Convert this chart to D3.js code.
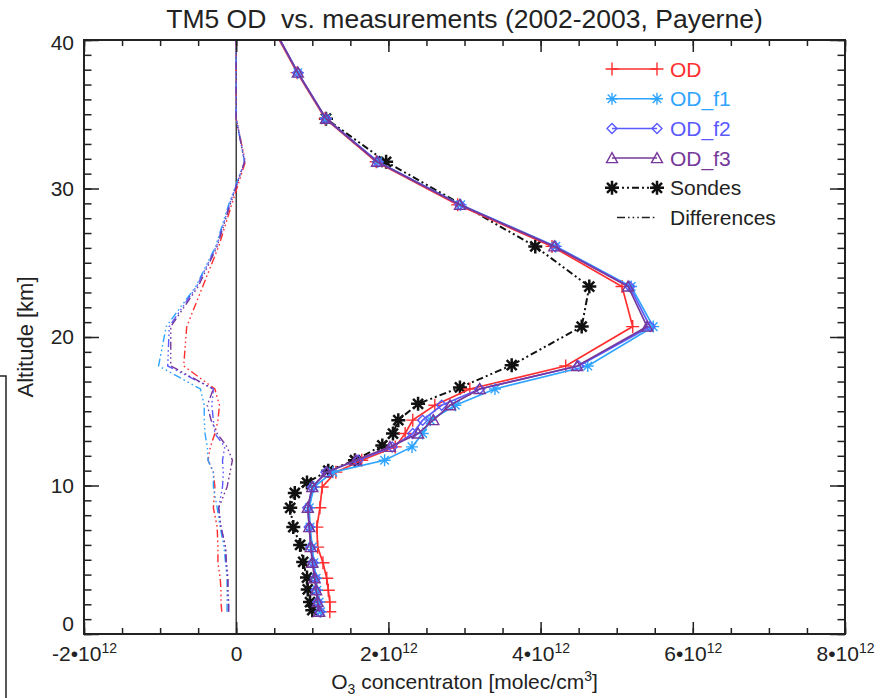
<!DOCTYPE html>
<html>
<head>
<meta charset="utf-8">
<script src="https://cdn.jsdelivr.net/npm/d3@7"></script>
<style>
  body { margin: 0; background: #fff; }
  svg { display: block; }
  text { font-family: "Liberation Sans", Arial, Helvetica, sans-serif; fill: #222; }
</style>
</head>
<body>
<svg id="chart" width="892" height="698"></svg>
<script>
// TM5 model levels (km)
const levels = [1.5, 2.15, 2.95, 3.75, 4.8, 5.85, 7.2, 8.5, 9.9, 10.9, 11.7, 12.6, 13.5, 14.4, 15.4, 16.5, 18.05, 20.7, 23.4, 26.1, 28.9, 31.8, 34.7, 37.8, 41];

// O3 concentration, units of 1e12 molec/cm3
const od   = [1.23, 1.23, 1.21, 1.19, 1.14, 1.07, 1.06, 1.10, 1.13, 1.31, 1.65, 2.09, 2.22, 2.32, 2.61, 3.07, 4.33, 5.21, 5.07, 4.15, 2.91, 1.84, 1.17, 0.80, 0.46];
const odF1 = [1.11, 1.09, 1.06, 1.05, 1.02, 1.00, 0.97, 0.96, 1.02, 1.27, 1.95, 2.31, 2.45, 2.55, 2.88, 3.40, 4.62, 5.48, 5.19, 4.20, 2.95, 1.86, 1.18, 0.81, 0.47];
const odF2 = [1.10, 1.07, 1.05, 1.04, 1.01, 0.98, 0.96, 0.94, 1.00, 1.18, 1.60, 2.05, 2.32, 2.45, 2.70, 3.20, 4.50, 5.44, 5.17, 4.19, 2.94, 1.86, 1.18, 0.81, 0.47];
const odF3 = [1.09, 1.07, 1.05, 1.03, 1.00, 0.98, 0.96, 0.94, 1.00, 1.19, 1.57, 2.02, 2.39, 2.59, 2.81, 3.20, 4.48, 5.40, 5.15, 4.18, 2.94, 1.85, 1.18, 0.81, 0.47];

// ozonesonde profile
const sondeAlt = [1.6, 2.15, 3.0, 3.8, 4.85, 6.0, 7.2, 8.5, 9.5, 10.2, 11.0, 11.7, 12.7, 13.5, 14.4, 15.5, 16.6, 18.1, 20.7, 23.4, 26.1, 31.8, 34.7];
const sondes   = [1.00, 0.97, 0.94, 0.93, 0.88, 0.84, 0.75, 0.71, 0.77, 0.93, 1.21, 1.56, 1.92, 2.06, 2.13, 2.39, 2.94, 3.62, 4.54, 4.64, 3.93, 1.97, 1.18];

// sondes minus model, on model levels
const diffOD = [-0.19, -0.20, -0.20, -0.21, -0.24, -0.24, -0.25, -0.30, -0.28, -0.30, -0.37, -0.34, -0.28, -0.24, -0.22, -0.28, -0.69, -0.65, -0.44, -0.23, -0.06, 0.12, 0, 0, 0];
const diffF1 = [-0.12, -0.12, -0.12, -0.12, -0.14, -0.16, -0.21, -0.25, -0.30, -0.30, -0.37, -0.38, -0.41, -0.42, -0.42, -0.47, -1.02, -0.92, -0.53, -0.27, -0.10, 0.11, 0, 0, 0];
const diffF2 = [-0.10, -0.10, -0.11, -0.11, -0.13, -0.14, -0.20, -0.23, -0.18, -0.17, -0.18, -0.15, -0.28, -0.30, -0.32, -0.30, -0.90, -0.88, -0.52, -0.26, -0.09, 0.11, 0, 0, 0];
const diffF3 = [-0.10, -0.10, -0.11, -0.11, -0.13, -0.14, -0.20, -0.23, -0.12, -0.08, -0.05, -0.12, -0.25, -0.33, -0.38, -0.30, -0.86, -0.86, -0.50, -0.25, -0.08, 0.11, 0, 0, 0];

const xTicks = [-2, 0, 2, 4, 6, 8];
const yTicks = [0, 10, 20, 30, 40];

const colors = { od: "#ff2e2e", f1: "#2fa4ff", f2: "#5a5aff", f3: "#76389a", sonde: "#111", diff: "#222" };

const svg = d3.select("#chart");
const M = { left: 84, right: 845, top: 40, bottom: 634 };

const x = d3.scaleLinear().domain([-2, 8]).range([M.left, M.right]);
const y = d3.scaleLinear().domain([0, 40]).range([M.bottom, M.top]);

svg.append("defs").append("clipPath").attr("id", "plotClip")
  .append("rect").attr("x", M.left).attr("y", M.top)
  .attr("width", M.right - M.left).attr("height", M.bottom - M.top);

// marker shapes
const symbols = {
  plus: "M-6.5,0H6.5M0,-6.5V6.5",
  star: "M-6,0H6M0,-6V6M-4.3,-4.3L4.3,4.3M-4.3,4.3L4.3,-4.3",
  diamond: "M0,-5L5,0L0,5L-5,0Z",
  triangle: "M0,-5.5L5.5,4.5H-5.5Z",
  sonde: "M-7,0H7M0,-7V7M-5,-5L5,5M-5,5L5,-5"
};

const diffDash = "8,3,1.6,3,1.6,3,1.6,3";
const sondeDash = "7,3,2,3,2,3";

const series = [
  { name: "OD",    vals: od,   diff: diffOD, color: colors.od, sym: "plus" },
  { name: "OD_f1", vals: odF1, diff: diffF1, color: colors.f1, sym: "star" },
  { name: "OD_f2", vals: odF2, diff: diffF2, color: colors.f2, sym: "diamond" },
  { name: "OD_f3", vals: odF3, diff: diffF3, color: colors.f3, sym: "triangle" }
];

const line = d3.line().x(d => x(d[0])).y(d => y(d[1]));
const plot = svg.append("g").attr("clip-path", "url(#plotClip)");

// zero line
plot.append("line").attr("x1", x(0)).attr("x2", x(0)).attr("y1", M.top).attr("y2", M.bottom)
  .attr("stroke", "#111").attr("stroke-width", 1.2);

// difference profiles
series.forEach(s => {
  plot.append("path").datum(levels.map((a, i) => [s.diff[i], a]))
    .attr("d", line).attr("fill", "none").attr("stroke", s.color)
    .attr("stroke-width", 1.4).attr("stroke-dasharray", diffDash);
});

// sonde profile
const sPts = sondeAlt.map((a, i) => [sondes[i], a]);
plot.append("path").datum(sPts).attr("d", line).attr("fill", "none")
  .attr("stroke", colors.sonde).attr("stroke-width", 2).attr("stroke-dasharray", sondeDash);
plot.selectAll(null).data(sPts).enter().append("path")
  .attr("d", symbols.sonde)
  .attr("transform", d => `translate(${x(d[0])},${y(d[1])})`)
  .attr("fill", "none").attr("stroke", colors.sonde).attr("stroke-width", 2.5);

// model profiles
series.forEach(s => {
  const pts = levels.map((a, i) => [s.vals[i], a]);
  plot.append("path").datum(pts).attr("d", line).attr("fill", "none")
    .attr("stroke", s.color).attr("stroke-width", 1.7);
  plot.selectAll(null).data(pts).enter().append("path")
    .attr("d", symbols[s.sym])
    .attr("transform", d => `translate(${x(d[0])},${y(d[1])})`)
    .attr("fill", "none").attr("stroke", s.color).attr("stroke-width", 1.4);
});

// axes: ticks on all four sides, pointing inwards
const xMinor = d3.range(-2, 8.001, 0.5);
const yMinor = d3.range(0, 40.001, 1);
const axisColor = "#222";

function styleAxis(g) {
  g.select(".domain").remove();
  g.selectAll(".tick line").attr("stroke", axisColor).attr("stroke-width", 1.5);
}

svg.append("g").attr("transform", `translate(0,${M.bottom})`)
  .call(d3.axisBottom(x).tickValues(xMinor).tickSize(-6).tickFormat("")).call(styleAxis);
svg.append("g").attr("transform", `translate(0,${M.top})`)
  .call(d3.axisTop(x).tickValues(xMinor).tickSize(-6).tickFormat("")).call(styleAxis);
svg.append("g").attr("transform", `translate(0,${M.top})`)
  .call(d3.axisTop(x).tickValues(xTicks).tickSize(-12).tickFormat("")).call(styleAxis);
const xAxis = svg.append("g").attr("transform", `translate(0,${M.bottom})`)
  .call(d3.axisBottom(x).tickValues(xTicks).tickSize(-12).tickPadding(12))
  .call(styleAxis);

xAxis.selectAll(".tick text").each(function(d) {
  const t = d3.select(this).text("").attr("font-size", 21).attr("fill", "#222")
    .attr("font-family", '"Liberation Sans", Arial, sans-serif');
  if (d === 0) { t.text("0"); return; }
  t.append("tspan").text(`${d}\u202210`);
  t.append("tspan").attr("dy", -8).attr("font-size", 14).text("12");
});

svg.append("g").attr("transform", `translate(${M.left},0)`)
  .call(d3.axisLeft(y).tickValues(yMinor).tickSize(-7.5).tickFormat("")).call(styleAxis);
svg.append("g").attr("transform", `translate(${M.right},0)`)
  .call(d3.axisRight(y).tickValues(yMinor).tickSize(-7.5).tickFormat("")).call(styleAxis);
svg.append("g").attr("transform", `translate(${M.right},0)`)
  .call(d3.axisRight(y).tickValues(yTicks).tickSize(-15).tickFormat("")).call(styleAxis);
const yAxis = svg.append("g").attr("transform", `translate(${M.left},0)`)
  .call(d3.axisLeft(y).tickValues(yTicks).tickSize(-15).tickPadding(10))
  .call(styleAxis);
yAxis.selectAll(".tick text").attr("font-size", 21).attr("fill", "#222")
  .attr("font-family", '"Liberation Sans", Arial, sans-serif')
  .attr("dy", d => d === 0 ? "-0.15em" : (d === 40 ? "0.45em" : "0.32em"));

// frame
svg.append("rect").attr("x", M.left).attr("y", M.top)
  .attr("width", M.right - M.left).attr("height", M.bottom - M.top)
  .attr("fill", "none").attr("stroke", axisColor).attr("stroke-width", 2);

// titles
svg.append("text").attr("x", (M.left + M.right) / 2).attr("y", 28)
  .attr("text-anchor", "middle").attr("font-size", 26.5)
  .text("TM5 OD  vs. measurements (2002-2003, Payerne)").style("white-space", "pre");

const xt = svg.append("text").attr("x", (M.left + M.right) / 2).attr("y", 689)
  .attr("text-anchor", "middle").attr("font-size", 21);
xt.append("tspan").text("O");
xt.append("tspan").attr("font-size", 14).attr("dy", 5).text("3");
xt.append("tspan").attr("dy", -5).text(" concentraton [molec/cm");
xt.append("tspan").attr("font-size", 14).attr("dy", -8).text("3");
xt.append("tspan").attr("dy", 8).text("]");

svg.append("text").attr("transform", `translate(33,${(M.top + M.bottom) / 2}) rotate(-90)`)
  .attr("text-anchor", "middle").attr("font-size", 22).text("Altitude [km]");

// bracket at the left edge
svg.append("path").attr("d", "M0,376H6V698").attr("fill", "none")
  .attr("stroke", "#222").attr("stroke-width", 1.5);

// legend
const legendItems = [
  { name: "OD",    color: colors.od, sym: "plus", dash: null, text: colors.od },
  { name: "OD_f1", color: colors.f1, sym: "star", dash: null, text: colors.f1 },
  { name: "OD_f2", color: colors.f2, sym: "diamond", dash: null, text: colors.f2 },
  { name: "OD_f3", color: colors.f3, sym: "triangle", dash: null, text: colors.f3 },
  { name: "Sondes", color: colors.sonde, sym: "sonde", dash: sondeDash, text: "#222" },
  { name: "Differences", color: colors.diff, sym: null, dash: diffDash, text: "#222" }
];
const lg = svg.append("g");
legendItems.forEach((it, i) => {
  const ly = 69 + i * 29.7;
  const x0 = it.sym ? 612 : 617, x1 = 657;
  lg.append("line").attr("x1", x0).attr("x2", x1).attr("y1", ly).attr("y2", ly)
    .attr("stroke", it.color).attr("stroke-width", it.sym === "sonde" ? 2 : 1.5)
    .attr("stroke-dasharray", it.dash);
  if (it.sym) {
    [x0, x1].forEach(px => lg.append("path").attr("d", symbols[it.sym])
      .attr("transform", `translate(${px},${ly})`).attr("fill", "none")
      .attr("stroke", it.color).attr("stroke-width", it.sym === "sonde" ? 2.5 : 1.4));
  }
  lg.append("text").attr("x", 670).attr("y", ly + 7.5).attr("font-size", 21)
    .style("fill", it.text).text(it.name);
});
</script>
</body>
</html>
